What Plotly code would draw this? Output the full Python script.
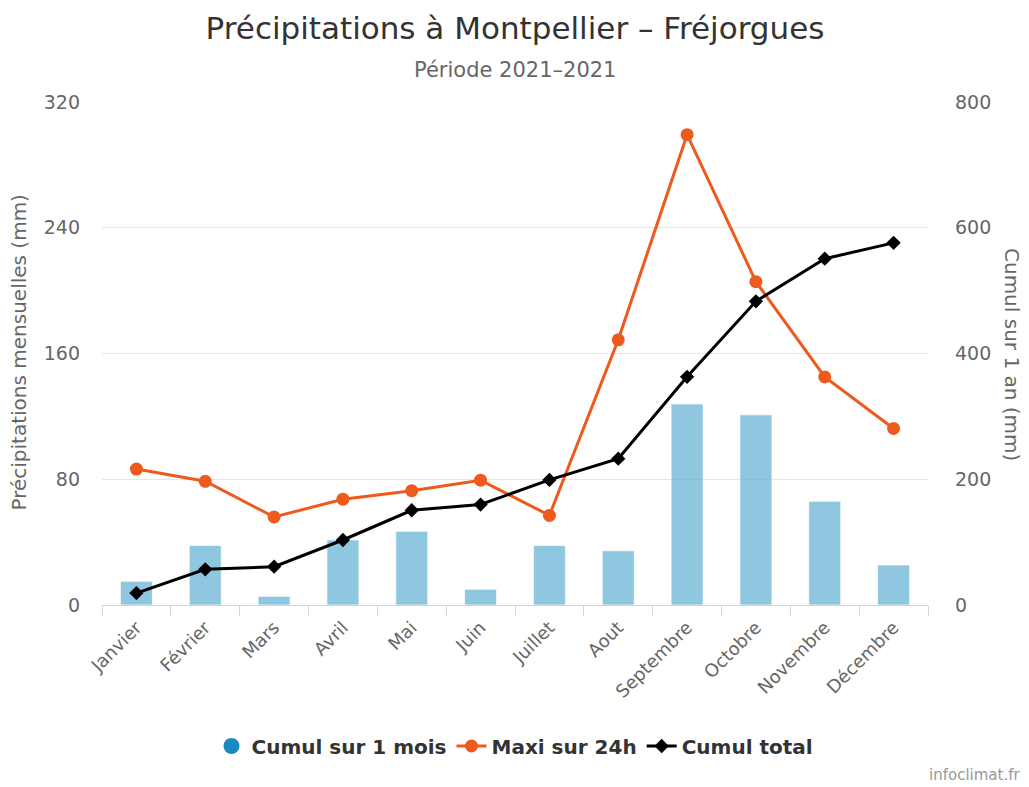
import plotly.graph_objects as go

mois = ["Janvier", "Février", "Mars", "Avril", "Mai", "Juin", "Juillet",
        "Aout", "Septembre", "Octobre", "Novembre", "Décembre"]
cumul_mois = [15.1, 37.9, 5.5, 41.4, 46.9, 10.0, 37.9, 34.5, 127.9, 121.0, 66.0, 25.5]
maxi_24h = [86.5, 78.7, 56.0, 67.3, 72.7, 79.4, 57.0, 168.7, 299.2, 205.7, 145.1, 112.3]
cumul_total = [19.0, 56.7, 60.9, 103.4, 150.7, 159.8, 199.0, 232.8, 362.9, 483.0, 550.8, 576.0]
left_ticks = [0, 80, 160, 240, 320]
right_ticks = [0, 200, 400, 600, 800]

FONT = "DejaVu Sans"
GREY = "#666666"

# the page body has an 8px margin: build the figure 8px smaller and
# express target positions in window pixels minus that offset
OFF = 8
W, H = 1029 - OFF, 787 - OFF
L, T = 102 - OFF, 102 - OFF
R = W - (928 - OFF)
B = H - (605 - OFF)
PW = W - L - R
PH = H - T - B


def px_x(x):
    return (x - OFF - L) / PW


def px_y(y):
    return (H - B - (y - OFF)) / PH


fig = go.Figure()

fig.add_trace(go.Bar(
    x=mois, y=cumul_mois, name="Cumul sur 1 mois",
    marker=dict(color="rgba(100,176,212,0.72)", line=dict(color="rgba(255,255,255,0.7)", width=1)),
    showlegend=False, yaxis="y", legendgroup="b",
))
fig.add_trace(go.Scatter(
    x=[None], y=[None], name="Cumul sur 1 mois", mode="markers",
    marker=dict(color="#1a8ac0", symbol="circle", size=20),
    legendgroup="b",
))
fig.add_trace(go.Scatter(
    x=mois, y=maxi_24h, name="Maxi sur 24h", mode="lines+markers",
    line=dict(color="#ee5a1e", width=3),
    marker=dict(color="#ee5a1e", size=13, symbol="circle"),
    yaxis="y",
))
fig.add_trace(go.Scatter(
    x=mois, y=cumul_total, name="Cumul total", mode="lines+markers",
    line=dict(color="#000000", width=3),
    marker=dict(color="#000000", size=11, symbol="diamond"),
    yaxis="y2",
))

fig.update_layout(
    width=W, height=H,
    margin=dict(l=L, r=R, t=T, b=B, autoexpand=False),
    paper_bgcolor="white", plot_bgcolor="white",
    font=dict(family=FONT, color=GREY),
    bargap=0.535,
    title=dict(
        text="Précipitations à Montpellier – Fréjorgues",
        x=0.5, xanchor="center", xref="paper",
        y=1 - (28 - OFF) / H, yref="container", yanchor="middle",
        font=dict(family=FONT, size=31, color="#333333"),
    ),
    xaxis=dict(
        type="category", tickangle=-45, automargin=False,
        range=[-0.5, len(mois) - 0.5],
        tickfont=dict(size=18, color=GREY),
        showgrid=False, showline=True, linecolor="#ccd6eb", linewidth=1,
        ticks="outside", tickson="boundaries", tickcolor="#ccd6eb", ticklen=10,
        zeroline=False, ticklabelstandoff=4,
    ),
    yaxis=dict(
        range=[0, 320], tickvals=left_ticks, automargin=False,
        tickfont=dict(size=19, color=GREY),
        gridcolor="#e6e6e6", gridwidth=1, zeroline=False, showline=False,
        ticklabelstandoff=21,
    ),
    yaxis2=dict(
        range=[0, 800], tickvals=right_ticks, overlaying="y", side="right",
        automargin=False,
        tickfont=dict(size=19, color=GREY),
        showgrid=False, zeroline=False, showline=False,
        ticklabelstandoff=26,
    ),
    legend=dict(
        orientation="h", x=0.5, xanchor="center", y=px_y(746), yanchor="middle",
        font=dict(family=FONT, size=20, color="#333333", weight="bold"),
        traceorder="normal", itemwidth=30,
    ),
    annotations=[
        dict(text="Période 2021–2021", xref="paper", yref="paper",
             x=0.5, y=px_y(70), xanchor="center", yanchor="middle",
             showarrow=False, font=dict(size=21, color=GREY)),
        dict(text="Précipitations mensuelles (mm)", textangle=-90, xref="paper", yref="paper",
             x=px_x(18.5), y=px_y(353), xanchor="center", yanchor="middle", showarrow=False,
             font=dict(size=20, color=GREY)),
        dict(text="Cumul sur 1 an (mm)", textangle=90, xref="paper", yref="paper",
             x=px_x(1012), y=px_y(354), xanchor="center", yanchor="middle", showarrow=False,
             font=dict(size=20, color=GREY)),
        dict(text="infoclimat.fr", xref="paper", yref="paper", x=px_x(1022), y=px_y(775),
             xanchor="right", yanchor="middle",
             showarrow=False, font=dict(size=15, color="#999999")),
    ],
)

fig.write_html("out.html")
